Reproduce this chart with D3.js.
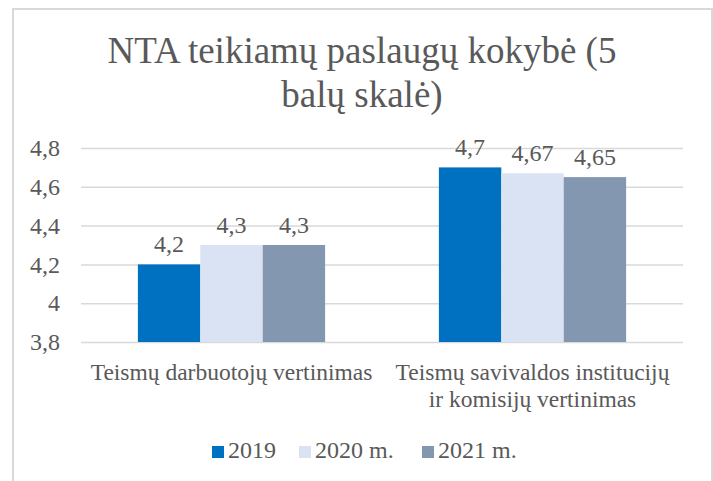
<!DOCTYPE html>
<html>
<head>
<meta charset="utf-8">
<script src="https://cdn.jsdelivr.net/npm/d3@7"></script>
<style>
	body { margin: 0; background: #fff; }
	svg text { font-family: "Liberation Serif", "Times New Roman", serif; fill: #595959; }
</style>
</head>
<body>
<div id="chart"></div>
<script>
// chart data
const categories = [
	["Teismų darbuotojų vertinimas"],
	["Teismų savivaldos institucijų", "ir komisijų vertinimas"]
];
const seriesNames = ["2019", "2020 m.", "2021 m."];
const seriesColors = ["#0070C0", "#DAE3F3", "#8497B0"];
const values2019 = [4.2, 4.7];
const values2020 = [4.3, 4.67];
const values2021 = [4.3, 4.65];
const yTicks = [3.8, 4, 4.2, 4.4, 4.6, 4.8];
const titleLines = ["NTA teikiamų paslaugų kokybė (5", "balų skalė)"];

const width = 713, height = 481;
const plot = { left: 81, right: 683, top: 148, bottom: 342 };
const serif = "'Liberation Serif', 'Times New Roman', serif";

const svg = d3.select("#chart").append("svg")
	.attr("width", width)
	.attr("height", height)
	.attr("font-family", serif);

// outer frame (bottom edge falls outside the picture)
svg.append("rect")
	.attr("x", 13).attr("y", 9)
	.attr("width", 699).attr("height", 490)
	.attr("fill", "none")
	.attr("stroke", "#d9d9d9")
	.attr("stroke-width", 2);

// title
svg.append("text")
	.attr("text-anchor", "middle")
	.attr("font-family", serif)
	.style("font-size", "37px")
	.selectAll("tspan")
	.data(titleLines)
	.join("tspan")
	.attr("x", 362)
	.attr("y", (d, i) => 63 + i * 44)
	.text(d => d);

const fmt = v => String(v).replace(".", ",");

const y = d3.scaleLinear().domain([3.8, 4.8]).range([plot.bottom, plot.top]);
const x0 = d3.scaleBand()
	.domain(d3.range(categories.length))
	.range([plot.left, plot.right])
	.paddingInner(0.378)
	.paddingOuter(0.189);
const x1 = d3.scaleBand()
	.domain(d3.range(seriesNames.length))
	.range([0, x0.bandwidth()]);

// gridlines + y labels via axis
const yAxis = d3.axisLeft(y)
	.tickValues(yTicks)
	.tickSize(-(plot.right - plot.left))
	.tickPadding(21)
	.tickFormat(fmt);
const gy = svg.append("g")
	.attr("transform", `translate(${plot.left},0)`)
	.call(yAxis)
	.attr("font-family", serif);
gy.select(".domain").remove();
gy.selectAll(".tick line").attr("stroke", "#d9d9d9").attr("stroke-width", 1.5);
gy.selectAll(".tick text")
	.attr("fill", "#595959")
	.attr("font-family", serif)
	.style("font-size", "24px");

// bars
const rows = categories.map((c, i) => [values2019[i], values2020[i], values2021[i]]);
const groups = svg.append("g").selectAll("g")
	.data(rows)
	.join("g")
	.attr("transform", (d, i) => `translate(${x0(i)},0)`);

groups.selectAll("rect")
	.data(d => d)
	.join("rect")
	.attr("x", (d, j) => x1(j))
	.attr("y", d => y(d))
	.attr("width", x1.bandwidth())
	.attr("height", d => y(3.8) - y(d))
	.attr("fill", (d, j) => seriesColors[j]);

groups.selectAll("text")
	.data(d => d)
	.join("text")
	.attr("x", (d, j) => x1(j) + x1.bandwidth() / 2)
	.attr("y", d => y(d) - 12)
	.attr("text-anchor", "middle")
	.attr("font-family", serif)
	.style("font-size", "24px")
	.text(d => fmt(d));

// category labels
svg.append("g").selectAll("text")
	.data(categories)
	.join("text")
	.attr("text-anchor", "middle")
	.attr("font-family", serif)
	.style("font-size", "23.5px")
	.each(function (lines, i) {
		d3.select(this).selectAll("tspan")
			.data(lines)
			.join("tspan")
			.attr("x", x0(i) + x0.bandwidth() / 2)
			.attr("y", (d, k) => 380 + k * 26.5)
			.text(d => d);
	});

// legend
const legendX = [212, 299, 422];
const legend = svg.append("g").selectAll("g")
	.data(seriesNames)
	.join("g")
	.attr("transform", (d, i) => `translate(${legendX[i]},446)`);
legend.append("rect")
	.attr("width", 12).attr("height", 12)
	.attr("fill", (d, i) => seriesColors[i]);
legend.append("text")
	.attr("x", 16).attr("y", 12)
	.attr("font-family", serif)
	.style("font-size", "24px")
	.text(d => d);
</script>
</body>
</html>
